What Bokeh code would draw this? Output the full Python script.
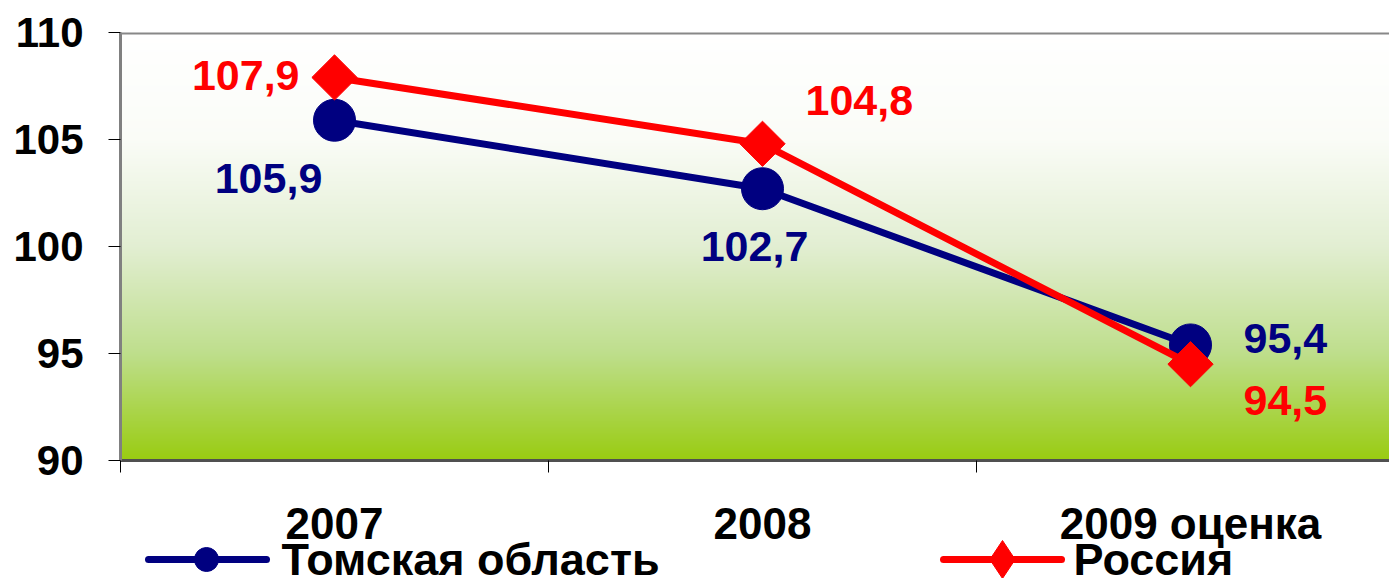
import numpy as np
from bokeh.plotting import figure
from bokeh.layouts import column
from bokeh.models import Range1d, FixedTicker, Span
from bokeh.core.properties import value
from bokeh.embed import file_html
from bokeh.resources import INLINE

# ---- data ----
categories = ["2007", "2008", "2009 оценка"]
tomsk = [105.9, 102.7, 95.4]
russia = [107.9, 104.8, 94.5]
series_names = ["Томская область", "Россия"]
y_ticks = [90, 95, 100, 105, 110]

FONT = "Liberation Sans"
NAVY = "#000080"
RED = "#ff0000"

W = 1389
H = 578
LEFT = 120          # frame left, px
CAT_PX = 428        # px per category
XMAX = (W - LEFT) / CAT_PX
MAIN_H = 484
SH = H - MAIN_H

xs = [i + 0.5 for i in range(len(categories))]

def fmt(v):
    return f"{v:.1f}".replace(".", ",")

def px(xpix):
    # convert a horizontal pixel position on the page to x-range units
    return (xpix - LEFT) / CAT_PX

x_range = Range1d(0, XMAX)

p = figure(width=W, height=MAIN_H, output_backend="svg", toolbar_location=None,
           x_range=x_range, y_range=Range1d(90, 110),
           min_border_left=LEFT, min_border_right=0, min_border_top=32,
           min_border_bottom=MAIN_H - 460)
p.outline_line_color = None
p.grid.visible = False
p.background_fill_color = "white"
p.border_fill_color = "white"

# gradient background
stops = [(0.0, (255, 255, 255)), (0.25, (250, 252, 247)), (0.5, (226, 238, 210)),
         (0.75, (190, 222, 140)), (1.0, (153, 204, 17))]
N = 428
img = np.zeros((N, 1), dtype=np.uint32)
view = img.view(dtype=np.uint8).reshape((N, 1, 4))
for i in range(N):
    f = 1 - (i + 0.5) / N
    for k in range(len(stops) - 1):
        f0, c0 = stops[k]
        f1, c1 = stops[k + 1]
        if f0 <= f <= f1:
            t = (f - f0) / (f1 - f0)
            c = [int(round(c0[j] + (c1[j] - c0[j]) * t)) for j in range(3)]
            break
    view[i, 0, 0:3] = c
    view[i, 0, 3] = 255
p.image_rgba(image=[img], x=0, y=90, dw=3, dh=20)

# series
p.line(xs, tomsk, line_color=NAVY, line_width=7, line_join="round")
p.scatter(xs, tomsk, marker="circle", size=42, fill_color=NAVY, line_color=NAVY)
p.line(xs, russia, line_color=RED, line_width=7, line_join="round")
p.scatter(xs, russia, marker="square", size=32, angle=np.pi / 4,
          fill_color=RED, line_color=RED)

# data labels
tomsk_pos = [("center", -66, 58), ("center", -8, 58), ("left", 53, -6)]
russia_pos = [("right", -35, -2), ("left", 43, -43), ("left", 53, 36)]
for vals, pos, col in [(tomsk, tomsk_pos, NAVY), (russia, russia_pos, RED)]:
    for x, v, (al, dx, dy) in zip(xs, vals, pos):
        p.text(x=[x], y=[v], text=[fmt(v)], text_align=al, text_baseline="middle",
               x_offset=dx, y_offset=dy, text_color=col,
               text_font=value(FONT), text_font_style="bold", text_font_size="43px")

# axes
yax = p.yaxis[0]
yax.ticker = FixedTicker(ticks=y_ticks)
yax.major_label_text_font = FONT
yax.major_label_text_font_style = "bold"
yax.major_label_text_font_size = "42px"
yax.major_label_text_color = "black"
yax.major_tick_out = 12
yax.major_tick_in = 0
yax.minor_tick_out = 0
yax.minor_tick_in = 0
yax.major_tick_line_color = "black"
yax.axis_line_color = "#808080"
yax.axis_line_width = 3
yax.major_label_standoff = 25

xax = p.xaxis[0]
xax.ticker = FixedTicker(ticks=[], minor_ticks=[0, 1, 2, 3])
xax.major_label_text_font_size = "0px"
xax.major_label_standoff = 0
xax.major_tick_out = 0
xax.major_tick_in = 0
xax.minor_tick_out = 12
xax.minor_tick_in = 0
xax.minor_tick_line_color = "black"
xax.axis_line_color = "#505050"
xax.axis_line_width = 3

p.add_layout(Span(location=110, dimension="width", line_color="#888888", line_width=4))

# ---- strip below: category labels and legend ----
s = figure(width=W, height=SH, output_backend="svg", toolbar_location=None,
           x_range=x_range, y_range=Range1d(SH, 0),
           x_axis_location=None, y_axis_location=None,
           min_border_left=LEFT, min_border_right=0, min_border_top=0,
           min_border_bottom=0)
s.outline_line_color = None
s.grid.visible = False
s.background_fill_color = "white"
s.border_fill_color = "white"

s.text(x=xs, y=[523 - MAIN_H] * len(xs), text=categories, text_align="center",
       text_baseline="middle", text_color="black", text_font=value(FONT),
       text_font_style="bold", text_font_size="44px")

LEG_Y = 559 - MAIN_H
# Томская область
s.line([px(148), px(266)], [LEG_Y, LEG_Y], line_color=NAVY, line_width=7, line_cap="round")
s.scatter([px(206)], [LEG_Y], marker="circle", size=24, fill_color=NAVY, line_color=NAVY)
s.text(x=[px(281)], y=[LEG_Y], text=[series_names[0]], text_align="left",
       text_baseline="middle", text_color="black", text_font=value(FONT),
       text_font_style="bold", text_font_size="45px")
# Россия
s.line([px(943), px(1061)], [LEG_Y, LEG_Y], line_color=RED, line_width=7, line_cap="round")
s.scatter([px(1002)], [LEG_Y], marker="diamond", size=38, fill_color=RED, line_color=RED)
s.text(x=[px(1073)], y=[LEG_Y], text=[series_names[1]], text_align="left",
       text_baseline="middle", text_color="black", text_font=value(FONT),
       text_font_style="bold", text_font_size="45px")

layout = column(p, s, spacing=0)
open("out.html", "w").write(file_html(layout, INLINE))
